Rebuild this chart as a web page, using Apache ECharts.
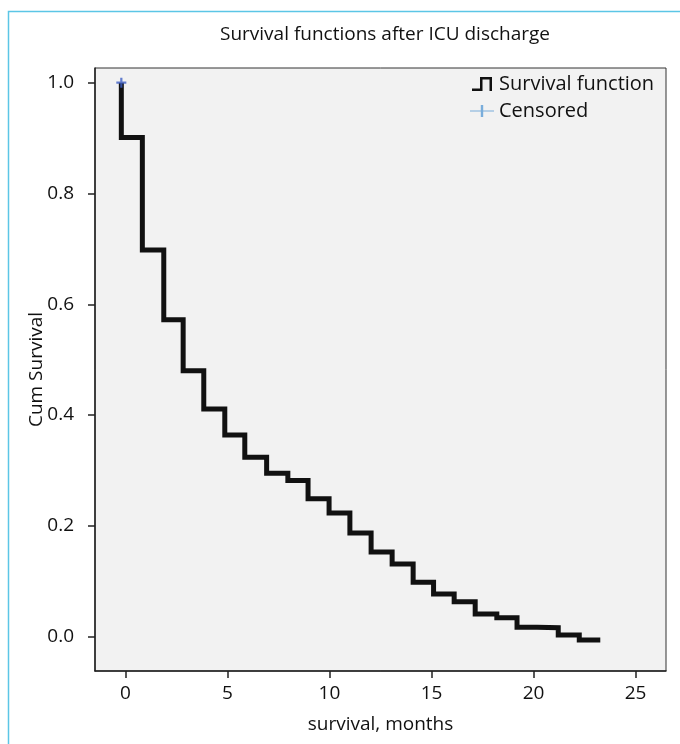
<!DOCTYPE html>
<html>
<head>
<meta charset="utf-8">
<script src="https://cdn.jsdelivr.net/npm/echarts@6/dist/echarts.min.js"></script>
<style>html,body{margin:0;padding:0;background:#fff;}#c{width:680px;height:744px;}</style>
</head>
<body>
<div id="c"></div>
<script>
// Kaplan-Meier step points (time in months, cumulative survival after the drop)
const times = [-0.2, -0.2, 0.83, 1.88, 2.83, 3.84, 4.87, 5.85, 6.92, 7.96, 8.95, 9.98, 11.0, 12.04, 13.07, 14.1, 15.1, 16.11, 17.14, 18.2, 19.19, 20.17, 21.21, 22.24, 23.27];
const survival = [1.0, 0.901, 0.698, 0.572, 0.480, 0.411, 0.364, 0.324, 0.295, 0.282, 0.249, 0.223, 0.187, 0.153, 0.131, 0.098, 0.077, 0.063, 0.041, 0.034, 0.017, 0.016, 0.003, -0.006, -0.006];
const censorTimes = [-0.2];
const censorValues = [1.0];
const xTicks = [0, 5, 10, 15, 20, 25];
const yTicks = [0, 0.2, 0.4, 0.6, 0.8, 1.0];

const FONT = 'Open Sans';
const chart = echarts.init(document.getElementById('c'), null, {renderer: 'canvas'});
const stepIcon = 'path://M0,11.5H8V0H20V14H17.5V2.5H10.5V14H0Z';
const censorIcon = 'path://M0,6.4H10.8V1H13.2V6.4H24V7.6H13.2V13H10.8V7.6H0Z';
const plusSymbol = 'path://M3.5,0H5.5V3.5H9V5.5H5.5V9H3.5V5.5H0V3.5H3.5Z';

chart.setOption({
  animation: false,
  backgroundColor: '#ffffff',
  textStyle: {fontFamily: FONT},
  title: {
    text: 'Survival functions after ICU discharge',
    left: 380, top: 20, textAlign: 'center',
    textStyle: {fontFamily: FONT, fontSize: 19, fontWeight: 'normal', color: '#111'}
  },
  graphic: [{
    type: 'rect', silent: true,
    shape: {x: 8.5, y: 11.5, width: 700, height: 800},
    style: {fill: 'none', stroke: '#5cc6e6', lineWidth: 1.5}
  }],
  grid: {
    left: 95, right: 14, top: 68, bottom: 73,
    show: true, backgroundColor: '#f2f2f2', borderColor: '#333', borderWidth: 1
  },
  legend: {
    orient: 'vertical', left: 465, top: 69,
    itemWidth: 24, itemHeight: 14, itemGap: 7,
    textStyle: {fontFamily: FONT, fontSize: 20, color: '#111', lineHeight: 20},
    data: [
      {name: 'Survival function', icon: stepIcon, itemStyle: {color: '#111'}},
      {name: 'Censored', icon: censorIcon, itemStyle: {color: '#5a9bd5'}}
    ]
  },
  xAxis: {
    type: 'value', min: -1.49, max: 26.49,
    name: 'survival, months', nameLocation: 'middle', nameGap: 44,
    nameTextStyle: {fontFamily: FONT, fontSize: 19, color: '#111'},
    axisLine: {show: true, onZero: false, lineStyle: {color: '#222', width: 1.5}},
    axisTick: {show: true, length: 7, customValues: xTicks, lineStyle: {color: '#222', width: 1.5}},
    axisLabel: {customValues: xTicks, margin: 13, fontFamily: FONT, fontSize: 19, color: '#111'},
    splitLine: {show: false}
  },
  yAxis: {
    type: 'value', min: -0.062, max: 1.0265,
    name: 'Cum Survival', nameLocation: 'middle', nameGap: 49, nameRotate: 90,
    nameMoveOverlap: false,
    nameTextStyle: {fontFamily: FONT, fontSize: 19, color: '#111'},
    axisLine: {show: true, onZero: false, lineStyle: {color: '#222', width: 1.5}},
    axisTick: {show: true, length: 7, customValues: yTicks, lineStyle: {color: '#222', width: 1.5}},
    axisLabel: {customValues: yTicks, margin: 21, fontFamily: FONT, fontSize: 19, color: '#111',
      formatter: v => v.toFixed(1)},
    splitLine: {show: false}
  },
  series: [
    {
      name: 'Survival function', type: 'line', step: 'end',
      data: times.map((t, i) => [t, survival[i]]),
      showSymbol: false, symbol: 'none',
      lineStyle: {color: '#111', width: 5, cap: 'butt', join: 'miter'},
      itemStyle: {color: '#111'}, z: 3
    },
    {
      name: 'Censored', type: 'scatter',
      data: censorTimes.map((t, i) => [t, censorValues[i]]),
      symbol: plusSymbol, symbolSize: 10,
      itemStyle: {color: '#3e5fc4'}, z: 4
    }
  ]
});
</script>
</body>
</html>
